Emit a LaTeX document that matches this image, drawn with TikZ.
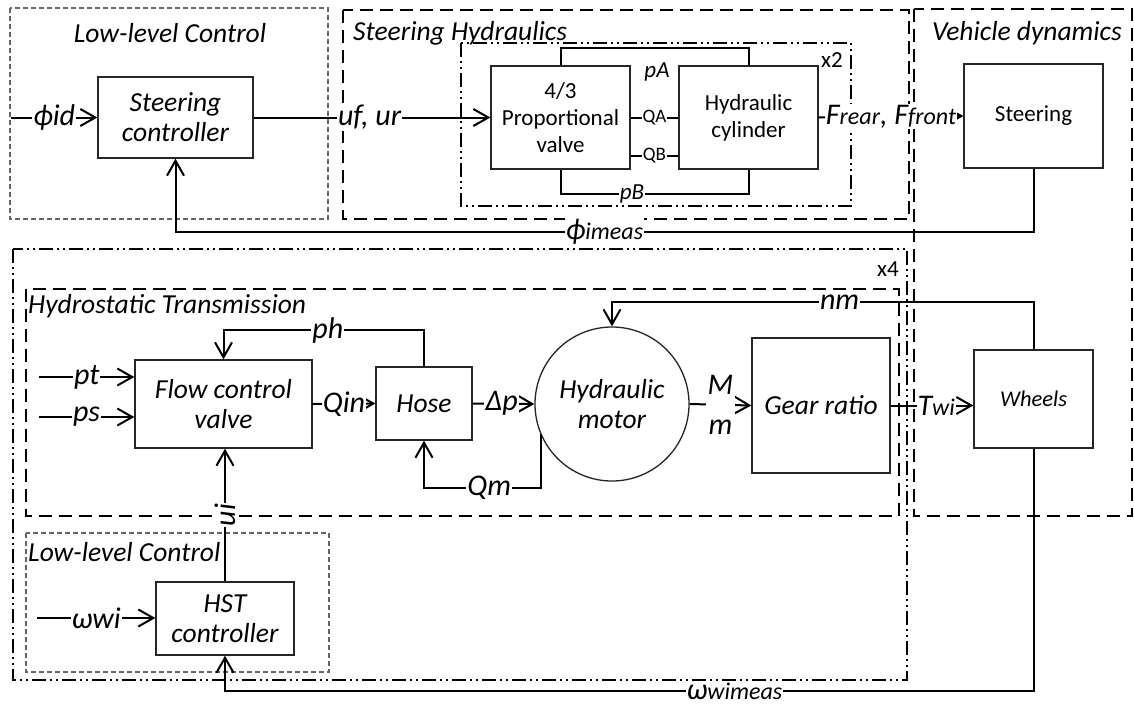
\documentclass[tikz,border=0pt]{standalone}
\usepackage{fontspec}
\setmainfont{Carlito}
\usetikzlibrary{arrows.meta}

\newcommand{\subtxt}[1]{{\fontsize{24}{24}\selectfont #1}}

\begin{document}
\begin{tikzpicture}[
  x=1pt, y=-1pt,
  blk/.style={draw=black!85, line width=1.3pt, fill=white, align=center, inner sep=2pt, font=\itshape\fontsize{27.5}{30}\selectfont},
  blkup/.style={blk, font=\fontsize{23}{27}\selectfont},
  lab/.style={fill=white, inner sep=1pt, font=\itshape\fontsize{30}{30}\selectfont},
  small/.style={fill=white, inner sep=1pt, font=\fontsize{19}{19}\selectfont},
  ttl/.style={inner sep=0pt, font=\itshape\fontsize{27.5}{30}\selectfont},
  cnt/.style={inner sep=0pt, font=\fontsize{23}{23}\selectfont},
  arr/.style={-{Straight Barb[length=15pt,width=17pt]}, line width=2pt},
  ln/.style={line width=2pt},
  grp/.style={line width=2pt, dash pattern=on 13pt off 7pt},
  rep/.style={line width=2pt, dash pattern=on 14pt off 4pt on 2pt off 4pt on 2pt off 4pt},
  llc/.style={draw=black!60, line width=1.3pt, dash pattern=on 5pt off 3pt}
]
\useasboundingbox (0,0) rectangle (1134,705);

% frames
\draw[llc] (10,8) rectangle (328,219);
\draw[grp] (343,10) rectangle (909,219);
\draw[grp] (914,9) rectangle (1132,516);
\draw[rep] (461,43) rectangle (851,206);
\draw[rep] (13,249) rectangle (907,680);
\draw[grp] (26,289) rectangle (899,516);
\draw[llc] (26,533) rectangle (329,672);

\node[ttl] (tllc) at (170,33) {Low-level Control};
\node[ttl, anchor=west] (tsh) at (353,33) {Steering Hydraulics};
\node[ttl] (tvd) at (1027,33) {Vehicle dynamics};
\node[ttl, anchor=west] (tht) at (28,306) {Hydrostatic Transmission};
\node[ttl, anchor=west] (tllc2) at (28,552) {Low-level Control};
\node[cnt] (x2) at (832,60) {x2};
\node[cnt] (x4) at (888,269) {x4};

% blocks
\node[blk, minimum width=155pt, minimum height=81pt] (sc) at (175.5,117.5) {Steering\\controller};
\node[blkup, minimum width=139pt, minimum height=103pt] (pv) at (560.5,117.5) {4/3\\Proportional\\valve};
\node[blkup, minimum width=139pt, minimum height=103pt] (hc) at (748.5,117.5) {Hydraulic\\cylinder};
\node[blkup, minimum width=139pt, minimum height=104pt] (st) at (1033.5,116) {Steering};
\node[blk, minimum width=177pt, minimum height=88pt] (fcv) at (223.5,404) {Flow control\\valve};
\node[blk, minimum width=96pt, minimum height=73pt] (hose) at (424,403.5) {Hose};
\node[blk, circle, minimum size=154pt, inner sep=0pt] (hm) at (612,404) {Hydraulic\\motor};
\node[blk, minimum width=138pt, minimum height=135pt] (gr) at (821,405.5) {Gear ratio};
\node[blk, minimum width=119pt, minimum height=98pt, font=\itshape\fontsize{22.5}{26}\selectfont] (wh) at (1033.5,399) {Wheels};
\node[blk, minimum width=138pt, minimum height=73pt] (hst) at (225,618.5) {HST\\controller};

\coordinate (phin) at (11,117.5);
\coordinate (ptin) at (39,377);
\coordinate (psin) at (39,417);
\coordinate (wwin) at (37,618);
\coordinate (yA) at (0,48);
\coordinate (yB) at (0,194);
\coordinate (yQA) at (0,118);
\coordinate (yQB) at (0,156);
\coordinate (yphi) at (0,232);
\coordinate (yph) at (0,330);
\coordinate (yQm) at (0,488);
\coordinate (ynm) at (0,302);
\coordinate (yom) at (0,691);

% steering loop
\draw[arr] (phin) -- node[lab]{ϕid} (sc.west);
\draw[arr] (sc.east) -- node[lab, pos=0.49]{uf, ur} (pv.west);
\draw[ln] (pv.north) |- (hc.north |- yA) -- (hc.north);
\node[inner sep=0pt, font=\itshape\fontsize{23}{23}\selectfont] (pA) at (657,72) {pA};
\draw[ln] (pv.south) |- node[lab, pos=0.69, font=\itshape\fontsize{23}{23}\selectfont]{pB} (hc.south |- yB) -- (hc.south);
\draw[ln] (pv.east |- yQA) -- node[small]{QA} (hc.west |- yQA);
\draw[ln] (pv.east |- yQB) -- node[small]{QB} (hc.west |- yQB);
\draw[arr] (hc.east) -- node[lab]{F\subtxt{rear}, F\subtxt{front}} (st.west);
\draw[arr] (st.south) |- node[lab, pos=0.75]{ϕ\subtxt{imeas}} (sc.south |- yphi) -- (sc.south);

% hydrostatic transmission
\draw[arr] (ptin) -- node[lab]{pt} (fcv.west |- ptin);
\draw[arr] (psin) -- node[lab]{ps} (fcv.west |- psin);
\draw[arr] (fcv.east) -- node[lab]{Qin} (hose.west);
\draw[arr] (hose.north) |- node[lab, pos=0.74]{ph} (fcv.north |- yph) -- (fcv.north);
\draw[arr] (hose.east) -- node[lab, pos=0.47]{Δp} (hm.west);
\draw[arr] (hm.203) -- (hm.203 |- yQm) -| node[lab, pos=0.22]{Qm} (hose.south);
\draw[arr] (hm.east) -- node[lab, align=center, inner sep=2pt, font=\itshape\fontsize{30}{40}\selectfont]{M\\m} (gr.west);
\draw[arr] (gr.east) -- node[lab, pos=0.55]{T\subtxt{wi}} (wh.west |- gr.east);
\draw[arr] (wh.north) |- node[lab, pos=0.73]{nm} (hm.north |- ynm) -- (hm.north);

% low-level control
\draw[arr] (wwin) -- node[lab]{ωwi} (hst.west |- wwin);
\draw[arr] (hst.north) -- node[lab, rotate=90]{ui} (hst.north |- fcv.south);
\draw[arr] (wh.south) |- node[lab, pos=0.685]{ω\subtxt{wimeas}} (hst.south |- yom) -- (hst.south);
\end{tikzpicture}
\end{document}
